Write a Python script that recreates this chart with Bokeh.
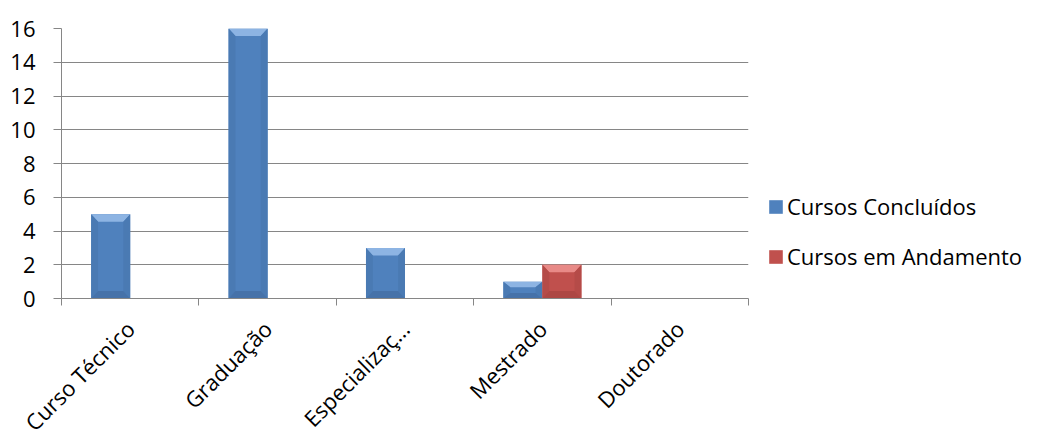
import math
from bokeh.plotting import figure
from bokeh.models import (Range1d, FixedTicker, Legend, LegendItem, ColumnDataSource)
from bokeh.embed import file_html
from bokeh.resources import INLINE

# Data
categories = ["Curso Técnico", "Graduação", "Especializaç…", "Mestrado", "Doutorado"]
concluidos = [5, 16, 3, 1, 0]
andamento = [0, 0, 0, 2, 0]
y_ticks = [0, 2, 4, 6, 8, 10, 12, 14, 16]

FONT = "Open Sans"
FS = "22px"
GRID = "#868686"

BAR_W = 0.284
p = figure(frame_width=687, frame_height=270, output_backend="svg",
           toolbar_location=None,
           x_range=Range1d(0, len(categories)), y_range=Range1d(0, 16),
           min_border_left=61, min_border_right=290, min_border_top=28,
           min_border_bottom=137)
p.outline_line_color = None
p.background_fill_color = "white"
p.border_fill_color = "white"

# y axis
p.yaxis.ticker = FixedTicker(ticks=y_ticks)
p.yaxis.axis_line_color = GRID
p.yaxis.major_tick_line_color = GRID
p.yaxis.major_tick_out = 8
p.yaxis.major_tick_in = 0
p.yaxis.minor_tick_line_color = None
p.yaxis.major_label_text_font = FONT
p.yaxis.major_label_text_font_size = FS
p.yaxis.major_label_text_color = "black"
p.yaxis.major_label_standoff = 18
p.ygrid.grid_line_color = GRID
p.ygrid.grid_line_width = 1

# x axis: labels at category centres, ticks at category boundaries
centers = [i + 0.5 for i in range(len(categories))]
bounds = list(range(len(categories) + 1))
p.xaxis.ticker = FixedTicker(ticks=centers, minor_ticks=bounds)
p.xaxis.major_label_overrides = {c: lab for c, lab in zip(centers, categories)}
p.xaxis.axis_line_color = GRID
p.xaxis.major_tick_line_color = None
p.xaxis.minor_tick_line_color = GRID
p.xaxis.minor_tick_out = 7
p.xaxis.minor_tick_in = 0
p.xaxis.major_label_orientation = math.pi / 4
p.xaxis.major_label_text_font = FONT
p.xaxis.major_label_text_font_size = FS
p.xaxis.major_label_text_color = "black"
p.xaxis.major_label_standoff = 19
p.xgrid.grid_line_color = None

def bevel_bars(xs, vals, base, light, dark, darker):
    """Bars with a bevelled edge, drawn as a flat body plus edge facets."""
    src = ColumnDataSource(dict(x=xs, top=vals))
    r = p.vbar(x="x", top="top", width=BAR_W, source=src, fill_color=base,
               line_color=None)
    bx, by = 0.05, 0.45  # facet depth in data units
    tops, sides, bottoms = ([], []), ([], []), ([], [])
    for x, v in zip(xs, vals):
        if v <= 0:
            continue
        l, rr = x - BAR_W / 2, x + BAR_W / 2
        d = min(by, v / 3)
        tops[0].append([l, rr, rr - bx, l + bx]); tops[1].append([v, v, v - d, v - d])
        bottoms[0].append([l, rr, rr - bx, l + bx]); bottoms[1].append([0, 0, d, d])
        sides[0].append([l, l + bx, l + bx, l]); sides[1].append([0, d, v - d, v])
        sides[0].append([rr, rr - bx, rr - bx, rr]); sides[1].append([0, d, v - d, v])
    p.patches(tops[0], tops[1], fill_color=light, line_color=None)
    p.patches(sides[0], sides[1], fill_color=dark, line_color=None)
    p.patches(bottoms[0], bottoms[1], fill_color=darker, line_color=None)
    return r

r1 = bevel_bars([c - BAR_W / 2 for c in centers], concluidos,
                "#4F81BD", "#8DB4E3", "#4A7AB3", "#4672A9")
r2 = bevel_bars([c + BAR_W / 2 for c in centers], andamento,
                "#C0504D", "#E88A87", "#B54B48", "#AD4744")

legend = Legend(items=[LegendItem(label="Cursos Concluídos", renderers=[r1]),
                       LegendItem(label="Cursos em Andamento", renderers=[r2])],
                location=(19, 27))
legend.border_line_color = None
legend.background_fill_alpha = 0
legend.label_text_font = FONT
legend.label_text_font_size = FS
legend.label_text_color = "black"
legend.glyph_width = 17
legend.glyph_height = 17
legend.label_standoff = 3
legend.spacing = 20
legend.padding = 0
legend.margin = 0
p.add_layout(legend, "right")

open("out.html", "w").write(file_html(p, INLINE))
